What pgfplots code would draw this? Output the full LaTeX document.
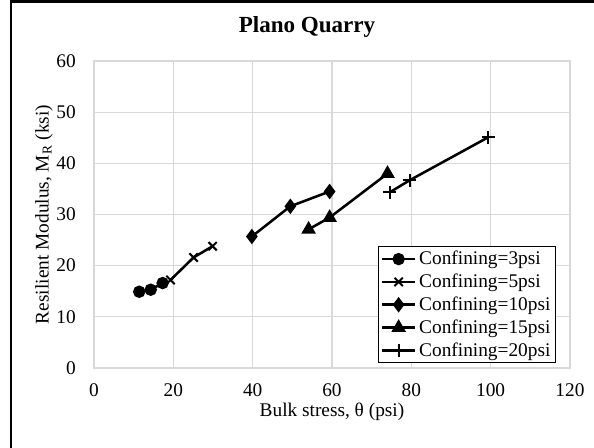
\documentclass[border=0pt]{standalone}
\usepackage{fontspec}
\setmainfont{Liberation Serif}
\usepackage{pgfplots}
\pgfplotsset{compat=1.18}
\definecolor{gridgray}{HTML}{D9D9D9}

\begin{document}
\begin{tikzpicture}[x=0.75pt, y=0.75pt]
  \useasboundingbox (0,0) rectangle (594,448);
  % frame (left and top edges only, as in the screenshot)
  \draw[line width=2.2pt] (11,0) -- (11,446.5) -- (594,446.5);
  \node[font=\fontsize{17.3}{20}\selectfont\bfseries] at (307,421) {Plano Quarry};

  \begin{axis}[
    at={(70.5pt,60pt)}, anchor=south west,
    scale only axis, width=357pt, height=230.25pt,
    xmin=0, xmax=120, ymin=0, ymax=60,
    xtick={0,20,...,120}, ytick={0,10,...,60},
    grid=major, major grid style={gridgray, line width=0.9pt},
    axis line style={gridgray, line width=0.9pt},
    major tick length=0pt,
    tick label style={font=\fontsize{14.5}{16}\selectfont, inner sep=0pt},
    /pgf/number format/assume math mode=true,
    xticklabel style={anchor=center, yshift=-17pt},
    yticklabel style={anchor=east, xshift=-13.5pt},
    label style={font=\fontsize{14.5}{16}\selectfont, inner sep=0pt},
    xlabel={Bulk stress, θ (psi)},
    ylabel={Resilient Modulus, M\textsubscript{R} (ksi)},
    xlabel style={at={(axis description cs:0.5,-0.143)}, anchor=center},
    ylabel style={at={(axis description cs:-0.105,0.5)}, anchor=center},
    legend style={at={(axis description cs:0.597,0.397)}, anchor=north west,
      font=\fontsize{14.5}{16}\selectfont, draw=black, line width=0.8pt,
      inner sep=1.5pt, row sep=1.4pt, cells={anchor=west}},
    legend image code/.code={\draw[mark repeat=2, mark phase=2, #1]
      plot coordinates {(0pt,0pt) (12.5pt,0pt) (25pt,0pt)};},
    cycle list={{black}},
    every axis plot/.append style={black, line width=1.9pt,
      mark options={solid, fill=black, line width=1.5pt}},
  ]
    \addplot[mark=*, mark size=3.9pt] coordinates {(11.4,14.9) (14.3,15.3) (17.3,16.6)};
    \addlegendentry{Confining=3psi}
    \addplot[mark=x, mark size=4.4pt] coordinates {(19.3,17.2) (25.1,21.6) (29.9,23.8)};
    \addlegendentry{Confining=5psi}
    \addplot[mark=diamond*, mark size=4.6pt] coordinates {(39.8,25.7) (49.5,31.6) (59.4,34.5)};
    \addlegendentry{Confining=10psi}
    \addplot[mark=triangle*, mark size=4.8pt] coordinates {(54.1,27.1) (59.4,29.4) (74.0,38.0)};
    \addlegendentry{Confining=15psi}
    \addplot[mark=+, mark size=5pt] coordinates {(74.5,34.3) (79.6,36.7) (99.4,45.1)};
    \addlegendentry{Confining=20psi}
  \end{axis}
\end{tikzpicture}
\end{document}
